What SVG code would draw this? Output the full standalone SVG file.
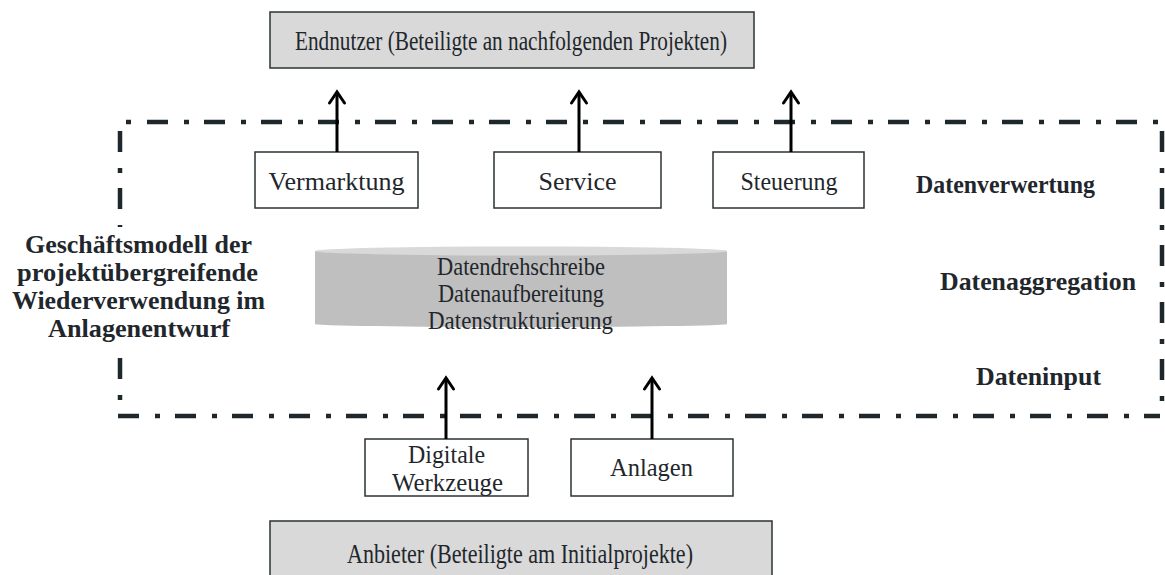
<svg xmlns="http://www.w3.org/2000/svg" width="1165" height="575" viewBox="0 0 1165 575">
  <defs>
    <style>
      .txt { font-family: "Liberation Serif", "DejaVu Serif", serif; font-size: 25px; fill: #1f272c; text-anchor: middle; }
      .tall { font-size: 26.5px; }
      .hub { font-size: 24.5px; }
      .bold { font-family: "Liberation Serif", "DejaVu Serif", serif; font-size: 25px; font-weight: bold; fill: #1f272c; text-anchor: middle; }
      .actor { fill: #d9d9d9; stroke: #2b3236; stroke-width: 1.5; }
      .box { fill: #ffffff; stroke: #2b3236; stroke-width: 1.5; }
      .frame { fill: none; stroke: #1e272c; stroke-width: 4.5; stroke-dasharray: 21 16 5 15; }
      .arrow { fill: none; stroke: #000000; stroke-width: 3; marker-end: url(#head); }
    </style>
    <marker id="head" viewBox="-14 -10 20 20" markerWidth="20" markerHeight="20" markerUnits="userSpaceOnUse" refX="0" refY="0" orient="auto">
      <path d="M-11,-7.5 L0,0 L-11,7.5" fill="none" stroke="#000000" stroke-width="3" stroke-linecap="round" stroke-linejoin="miter"/>
    </marker>
  </defs>

  <!-- dash-dot system boundary -->
  <g id="boundary">
    <line class="frame" x1="147" y1="122" x2="1160" y2="122"/>
    <line class="frame" x1="126" y1="122" x2="131" y2="122" style="stroke-dasharray:none"/>
    <line class="frame" x1="1162" y1="131" x2="1162" y2="416"/>
    <line class="frame" x1="118" y1="416" x2="1160" y2="416"/>
    <line class="frame" x1="120" y1="131" x2="120" y2="227"/>
    <line class="frame" x1="120" y1="358" x2="120" y2="400"/>
  </g>

  <!-- end users -->
  <g id="endnutzer">
    <rect class="actor" x="270" y="12" width="484" height="56"/>
    <text class="txt tall" x="511" y="50" textLength="432" lengthAdjust="spacingAndGlyphs">Endnutzer (Beteiligte an nachfolgenden Projekten)</text>
  </g>

  <!-- data usage -->
  <g id="vermarktung">
    <rect class="box" x="255" y="152" width="163" height="56"/>
    <text class="txt" x="336.5" y="190" textLength="136" lengthAdjust="spacingAndGlyphs">Vermarktung</text>
  </g>
  <g id="service">
    <rect class="box" x="494" y="152" width="167" height="56"/>
    <text class="txt" x="577.5" y="190" textLength="78" lengthAdjust="spacingAndGlyphs">Service</text>
  </g>
  <g id="steuerung">
    <rect class="box" x="713" y="152" width="151" height="56"/>
    <text class="txt" x="789" y="190" textLength="97" lengthAdjust="spacingAndGlyphs">Steuerung</text>
  </g>

  <!-- data hub -->
  <g id="datendrehscheibe">
    <path d="M315,251 L315,324 A206,3 0 0 0 727,324 L727,251 Z" fill="#bfbfbf"/>
    <ellipse cx="521" cy="251" rx="206" ry="4.5" fill="#d9d9d9"/>
    <text class="txt hub" x="521" y="275" textLength="168" lengthAdjust="spacingAndGlyphs">Datendrehschreibe</text>
    <text class="txt hub" x="521" y="302" textLength="166" lengthAdjust="spacingAndGlyphs">Datenaufbereitung</text>
    <text class="txt hub" x="520.5" y="329" textLength="185" lengthAdjust="spacingAndGlyphs">Datenstrukturierung</text>
  </g>

  <!-- data input -->
  <g id="werkzeuge">
    <rect class="box" x="365" y="439" width="163" height="57"/>
    <text class="txt" x="446.5" y="463" textLength="77" lengthAdjust="spacingAndGlyphs">Digitale</text>
    <text class="txt" x="447.5" y="491" textLength="111" lengthAdjust="spacingAndGlyphs">Werkzeuge</text>
  </g>
  <g id="anlagen">
    <rect class="box" x="571" y="439" width="162" height="57"/>
    <text class="txt" x="651.5" y="476" textLength="83" lengthAdjust="spacingAndGlyphs">Anlagen</text>
  </g>

  <!-- providers -->
  <g id="anbieter">
    <rect class="actor" x="270" y="521" width="502" height="70"/>
    <text class="txt tall" x="520" y="563" textLength="346" lengthAdjust="spacingAndGlyphs">Anbieter (Beteiligte am Initialprojekte)</text>
  </g>

  <!-- layer labels -->
  <g id="ebenen">
    <text class="bold" x="1005.5" y="193" textLength="179" lengthAdjust="spacingAndGlyphs">Datenverwertung</text>
    <text class="bold" x="1038" y="290" textLength="196" lengthAdjust="spacingAndGlyphs">Datenaggregation</text>
    <text class="bold" x="1038.5" y="385" textLength="125" lengthAdjust="spacingAndGlyphs">Dateninput</text>
  </g>

  <g id="geschaeftsmodell">
    <text class="bold" x="138.5" y="253" textLength="227" lengthAdjust="spacingAndGlyphs">Geschäftsmodell der</text>
    <text class="bold" x="137.5" y="281" textLength="241" lengthAdjust="spacingAndGlyphs">projektübergreifende</text>
    <text class="bold" x="138.5" y="309" textLength="253" lengthAdjust="spacingAndGlyphs">Wiederverwendung im</text>
    <text class="bold" x="139" y="337" textLength="182" lengthAdjust="spacingAndGlyphs">Anlagenentwurf</text>
  </g>

  <!-- connectors -->
  <g id="connectors">
    <line class="arrow" x1="337" y1="152" x2="337" y2="92"/>
    <line class="arrow" x1="579" y1="152" x2="579" y2="92"/>
    <line class="arrow" x1="791" y1="152" x2="791" y2="92"/>
    <line class="arrow" x1="446" y1="439" x2="446" y2="378"/>
    <line class="arrow" x1="652" y1="439" x2="652" y2="378"/>
  </g>
</svg>
